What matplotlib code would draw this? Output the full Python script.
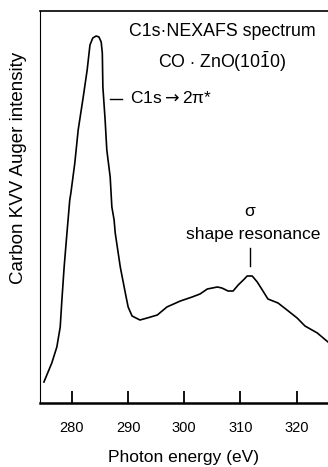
import matplotlib
matplotlib.use("Agg")
from matplotlib import pyplot as plt

plt.rcParams['font.family'] = ['Liberation Sans', 'DejaVu Sans']
plt.rcParams['mathtext.fontset'] = 'custom'
plt.rcParams['mathtext.rm'] = 'Liberation Sans'
plt.rcParams['mathtext.it'] = 'Liberation Sans:italic'

# C1s NEXAFS of CO on ZnO(10-10), Auger yield vs photon energy
energy = [275.0, 276.4, 277.3, 277.9, 278.2, 278.6, 279.1, 279.6, 279.8, 280.5,
          281.1, 282.0, 282.7, 283.2, 283.7, 284.3, 284.8, 285.2, 285.4, 285.5,
          285.9, 286.2, 286.8, 287.1, 287.5, 287.7, 288.6, 289.5, 290.0, 290.7,
          292.1, 293.4, 295.2, 296.9, 299.3, 301.4, 302.8, 304.1, 305.9, 306.7,
          307.8, 308.7, 309.6, 310.7, 311.2, 312.1, 313.0, 313.9, 314.9, 316.7,
          318.3, 320.1, 321.5, 323.7, 325.6]
intensity = [21, 40, 56, 76, 103, 136, 170, 203, 210, 240,
             273, 306, 333, 358, 365, 367, 366, 361, 350, 316,
             283, 253, 226, 196, 183, 170, 136, 110, 96, 87,
             83, 85, 88, 96, 102, 106, 109, 114, 116, 115,
             112, 112, 118, 124, 127, 127, 121, 113, 104, 100,
             93, 85, 77, 70, 61]
xticks = [280, 290, 300, 310, 320]

fig = plt.figure(figsize=(3.28, 4.67), dpi=100)
ax = fig.add_axes([40/328, 64/467, 288/328, 392/467])
ax.plot(energy, intensity, color='black', lw=1.2)
ax.set_xlim(274.3, 325.6)
ax.set_ylim(0, 392)

ax.spines['right'].set_visible(False)
ax.spines['left'].set_linewidth(0.8)
ax.spines['top'].set_linewidth(1.2)
ax.spines['bottom'].set_linewidth(1.8)
ax.set_yticks([])
ax.set_xticks(xticks)
ax.set_xticklabels([str(t) for t in xticks], fontsize=10.5)
ax.tick_params(axis='x', direction='in', length=9, width=1.3, pad=13)

ax.set_xlabel('Photon energy (eV)', fontsize=12.5, labelpad=11)
ax.set_ylabel('Carbon KVV Auger intensity', fontsize=13.5)
ax.yaxis.set_label_coords(-0.045, 0.6)

# labels
ax.text(306.7, 372, 'C1s\u00b7NEXAFS spectrum', fontsize=12.8, ha='center', va='center')
ax.text(306.7, 341, r'CO $\cdot$ ZnO(10$\bar{1}$0)', fontsize=12.8, ha='center', va='center')

ax.plot([286.8, 288.9], [304, 304], color='black', lw=1)
ax.text(290.3, 305, 'C1s${\\rightarrow}$2\u03c0*', fontsize=12.5, ha='left', va='center',
        math_fontfamily='dejavusans')

ax.plot([311.7, 311.7], [137, 155], color='black', lw=1)
ax.text(312.2, 169, 'shape resonance', fontsize=12.6, ha='center', va='center')
ax.text(311.7, 192, '\u03c3', fontsize=12.6, ha='center', va='center')

fig.savefig('out.png', dpi=100)
